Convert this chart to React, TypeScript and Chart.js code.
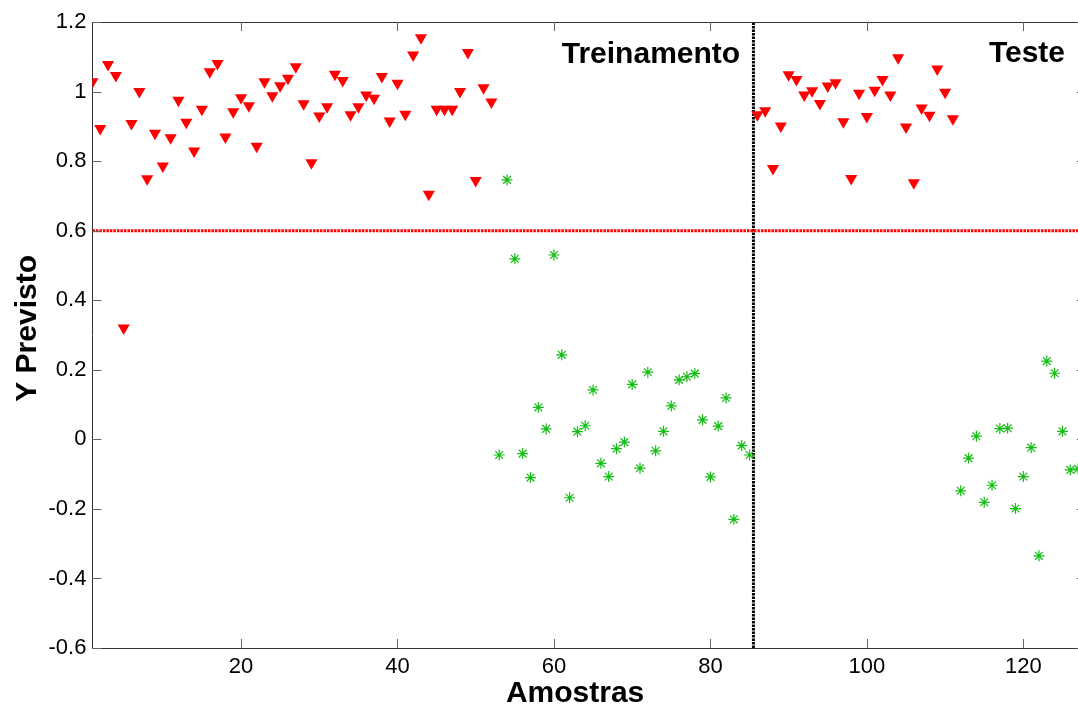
import React, { useEffect, useRef } from "react";
import { Chart, registerables } from "chart.js";

Chart.register(...registerables);

// ---- data ----
const trainClass1 = [
  1.028, 0.894, 1.078, 1.046, 0.32, 0.908, 1.0, 0.749, 0.88, 0.786,
  0.867, 0.975, 0.912, 0.829, 0.949, 1.057, 1.081, 0.869, 0.942, 0.982,
  0.959, 0.843, 1.028, 0.988, 1.017, 1.038, 1.071, 0.965, 0.795, 0.93,
  0.956, 1.05, 1.032, 0.933, 0.956, 0.99, 0.981, 1.043, 0.915, 1.024,
  0.935, 1.105, 1.155, 0.705, 0.949, 0.949, 0.949, 1.0, 1.112, 0.744,
  1.011, 0.97,
];
const trainClass1Start = 1;

const trainClass0 = [
  -0.045, 0.746, 0.519, -0.041, -0.11, 0.092, 0.03, 0.53, 0.243, -0.168,
  0.022, 0.039, 0.142, -0.069, -0.107, -0.027, -0.008, 0.158, -0.083, 0.193,
  -0.033, 0.023, 0.096, 0.171, 0.18, 0.189, 0.056, -0.108, 0.038, 0.119,
  -0.23, -0.018, -0.045,
];
const trainClass0Start = 53;

const testClass1 = [
  0.933, 0.945, 0.779, 0.901, 1.048, 1.035, 0.99, 1.002, 0.966, 1.016,
  1.025, 0.913, 0.75, 0.995, 0.928, 1.004, 1.035, 0.99, 1.097, 0.898,
  0.738, 0.953, 0.932, 1.065, 0.998, 0.922,
];
const testClass1Start = 86;

const testClass0 = [
  -0.148, -0.054, 0.009, -0.181, -0.132, 0.031, 0.032, -0.199, -0.107, -0.024,
  -0.335, 0.225, 0.19, 0.023, -0.088, -0.085,
];
const testClass0Start = 112;

const threshold = 0.6;
const splitSample = 85.5;

const xRange = [1, 128];
const yRange = [-0.6, 1.2];
const xTicks = [20, 40, 60, 80, 100, 120];
const yTicks = [-0.6, -0.4, -0.2, 0, 0.2, 0.4, 0.6, 0.8, 1, 1.2];

const labelTrain = "Treinamento";
const labelTest = "Teste";
const xTitle = "Amostras";
const yTitle = "Y Previsto";

const FONT = "'Liberation Sans', Arial, Helvetica, sans-serif";

const toPoints = (vals: number[], start: number) =>
  vals.map((v, i) => ({ x: start + i, y: v }));

const boxPlugin = {
  id: "boxAndTicks",
  afterDraw(chart: any) {
    const { ctx, chartArea, scales } = chart;
    const { left, right, top, bottom } = chartArea;
    const xs = scales.x;
    const ys = scales.y;
    ctx.save();
    // box top & right
    ctx.strokeStyle = "#333";
    ctx.lineWidth = 1;
    ctx.beginPath();
    ctx.moveTo(left, Math.round(top) + 0.5);
    ctx.lineTo(right, Math.round(top) + 0.5);
    ctx.moveTo(Math.round(right) + 0.5, top);
    ctx.lineTo(Math.round(right) + 0.5, bottom);
    ctx.stroke();
    // inward ticks
    const tl = 9;
    ctx.strokeStyle = "#666";
    ctx.beginPath();
    xTicks.forEach((v) => {
      const px = Math.round(xs.getPixelForValue(v)) + 0.5;
      ctx.moveTo(px, bottom);
      ctx.lineTo(px, bottom - tl);
      ctx.moveTo(px, top);
      ctx.lineTo(px, top + tl);
    });
    yTicks.forEach((v) => {
      const py = Math.round(ys.getPixelForValue(v)) + 0.5;
      ctx.moveTo(left, py);
      ctx.lineTo(left + tl, py);
      ctx.moveTo(right, py);
      ctx.lineTo(right - tl, py);
    });
    ctx.stroke();
    // annotations
    ctx.fillStyle = "#000";
    ctx.font = `bold 30px ${FONT}`;
    ctx.textBaseline = "alphabetic";
    ctx.textAlign = "right";
    ctx.fillText(labelTrain, xs.getPixelForValue(83.8), ys.getPixelForValue(1.081));
    ctx.textAlign = "left";
    ctx.fillText(labelTest, xs.getPixelForValue(115.6), ys.getPixelForValue(1.084));
    // axis titles
    ctx.textAlign = "center";
    ctx.fillText(xTitle, xs.getPixelForValue(62.7), bottom + 54);
    ctx.save();
    ctx.translate(36, ys.getPixelForValue(0.319));
    ctx.rotate(-Math.PI / 2);
    ctx.fillText(yTitle, 0, 0);
    ctx.restore();
    ctx.restore();
  },
};

export default function App() {
  const canvasRef = useRef<HTMLCanvasElement | null>(null);

  useEffect(() => {
    const canvas = canvasRef.current;
    if (!canvas) return;
    const red = "#ff0000";
    const green = "rgb(20,190,20)";
    const chart = new Chart(canvas, {
      type: "scatter",
      data: {
        datasets: [
          {
            label: "Treino classe 1",
            data: toPoints(trainClass1, trainClass1Start),
            pointStyle: "triangle",
            rotation: 180,
            pointRadius: 7,
            pointHoverRadius: 7,
            backgroundColor: red,
            borderColor: red,
            borderWidth: 0,
          },
          {
            label: "Treino classe 0",
            data: toPoints(trainClass0, trainClass0Start),
            pointStyle: "star",
            pointRadius: 5.5,
            pointHoverRadius: 5.5,
            backgroundColor: green,
            borderColor: green,
            borderWidth: 1.2,
          },
          {
            label: "Teste classe 1",
            data: toPoints(testClass1, testClass1Start),
            pointStyle: "triangle",
            rotation: 180,
            pointRadius: 7,
            pointHoverRadius: 7,
            backgroundColor: red,
            borderColor: red,
            borderWidth: 0,
          },
          {
            label: "Teste classe 0",
            data: toPoints(testClass0, testClass0Start),
            pointStyle: "star",
            pointRadius: 5.5,
            pointHoverRadius: 5.5,
            backgroundColor: green,
            borderColor: green,
            borderWidth: 1.2,
          },
          {
            label: "Limiar",
            type: "line",
            data: [
              { x: xRange[0], y: threshold },
              { x: xRange[1], y: threshold },
            ],
            borderColor: red,
            borderWidth: 3,
            borderDash: [2.5, 1],
            pointRadius: 0,
            fill: false,
          },
          {
            label: "Divisão",
            type: "line",
            data: [
              { x: splitSample, y: yRange[0] },
              { x: splitSample, y: yRange[1] },
            ],
            borderColor: "#000",
            borderWidth: 3,
            borderDash: [2.5, 1],
            pointRadius: 0,
            fill: false,
          },
        ] as any,
      },
      options: {
        responsive: false,
        animation: false,
        devicePixelRatio: 1,
        layout: { autoPadding: false, padding: { left: 0, top: 22, right: 4.1, bottom: 0 } },
        plugins: {
          legend: { display: false },
          tooltip: { enabled: false },
          title: { display: false },
        },
        scales: {
          x: {
            type: "linear",
            min: xRange[0],
            max: xRange[1],
            afterBuildTicks: (s: any) => {
              s.ticks = xTicks.map((v) => ({ value: v }));
            },
            afterFit: (s: any) => {
              s.height = 60;
            },
            ticks: {
              font: { family: FONT, size: 22 },
              color: "#000",
              padding: 6,
              maxRotation: 0,
              autoSkip: false,
              callback: (v: any) => String(v),
            },
            grid: { display: false, drawTicks: false },
            border: { display: true, color: "#333", width: 1 },
          },
          y: {
            type: "linear",
            min: yRange[0],
            max: yRange[1],
            afterBuildTicks: (s: any) => {
              s.ticks = yTicks.map((v) => ({ value: v }));
            },
            afterFit: (s: any) => {
              s.width = 92.4;
            },
            ticks: {
              font: { family: FONT, size: 22 },
              color: "#000",
              padding: 6,
              autoSkip: false,
              callback: (v: any) => String(Math.round(Number(v) * 10) / 10),
            },
            grid: { display: false, drawTicks: false },
            border: { display: true, color: "#333", width: 1 },
          },
        },
      },
      plugins: [boxPlugin],
    });
    return () => chart.destroy();
  }, []);

  return (
    <div
      style={{
        position: "fixed",
        left: 0,
        top: 0,
        width: 1078,
        height: 708,
        overflow: "hidden",
        background: "#fff",
      }}
    >
      <canvas
        ref={canvasRef}
        width={1090}
        height={708}
        style={{ display: "block", width: 1090, height: 708 }}
      />
    </div>
  );
}
